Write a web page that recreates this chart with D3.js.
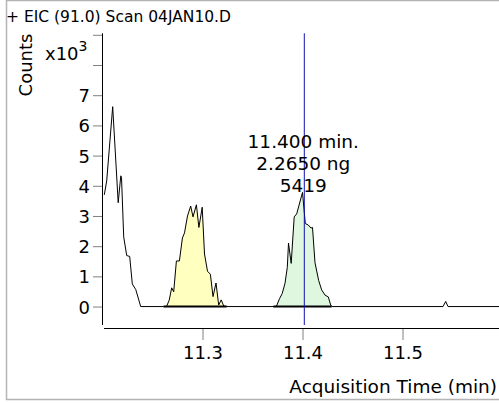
<!DOCTYPE html>
<html>
<head>
<meta charset="utf-8">
<script src="https://cdn.jsdelivr.net/npm/d3@7"></script>
<style>
  html, body { margin: 0; padding: 0; background: #fff; }
  svg { display: block; }
  text { font-family: "DejaVu Sans", Verdana, sans-serif; fill: #000; }
</style>
</head>
<body>
<svg id="chart" width="499" height="403"></svg>
<script>
// ---- data (time in min, counts in x10^3) ----
const title = "+ EIC (91.0) Scan 04JAN10.D";
const yTicks = [0, 1, 2, 3, 4, 5, 6, 7, 8, 9];
const yTickLabels = ["0", "1", "2", "3", "4", "5", "6", "7", "", ""];
const xTicks = [11.3, 11.4, 11.5];
const xTickLabels = ["11.3", "11.4", "11.5"];

const traceTimes = [
  11.2018, 11.2042, 11.2102, 11.2157, 11.2183, 11.2190, 11.2212, 11.2242, 11.2272, 11.2298, 11.2333, 11.2382,
  11.2610, 11.2640, 11.2667, 11.2692, 11.2712, 11.2739, 11.2769, 11.2799, 11.2820, 11.2850, 11.2882, 11.2905,
  11.2939, 11.2964, 11.2997, 11.3020, 11.3050, 11.3079, 11.3105, 11.3135, 11.3162, 11.3187, 11.3212, 11.3240,
  11.3738, 11.3770, 11.3797, 11.3825, 11.3848, 11.3860, 11.3887, 11.3917, 11.3942, 11.4000, 11.4028, 11.4058,
  11.4085, 11.4100, 11.4125, 11.4162, 11.4192, 11.4225, 11.4258, 11.4282, 11.4295,
  11.5405, 11.5432, 11.5455, 11.5965
];
const traceValues = [
  3.70, 4.16, 6.62, 3.44, 4.33, 4.28, 2.31, 1.69, 1.66, 0.75, 0.56, 0.0,
  0.0, 0.0, 0.21, 0.62, 0.49, 1.51, 1.51, 2.27, 2.44, 3.00, 3.33, 2.97,
  3.37, 2.62, 3.29, 1.74, 1.17, 1.07, 0.33, 0.78, 0.05, 0.22, 0.02, 0.0,
  0.0, 0.26, 0.43, 0.77, 1.30, 2.10, 1.43, 2.97, 3.07, 3.78, 2.75, 2.70,
  2.60, 2.62, 1.45, 0.86, 0.55, 0.38, 0.32, 0.05, 0.0,
  0.0, 0.17, 0.0, 0.0
];

// integrated peaks: [start, end] of baseline, fill colour
const peakStarts = [11.2610, 11.3708];
const peakEnds = [11.3242, 11.4292];
const fillStarts = [11.2640, 11.3738];
const fillEnds = [11.3240, 11.4295];
const peakFills = ["#ffffc0", "#dff7df"];

const cursorTime = 11.4018;
const annotation = ["11.400 min.", "2.2650 ng", "5419"];

// ---- drawing ----
const svg = d3.select("#chart");
const W = 499, H = 403;

const x = d3.scaleLinear().domain([11.1995, 11.5965]).range([102, 499]);
const y = d3.scaleLinear().domain([-0.71, 9.05]).range([328, 33.3]);

const pts = traceTimes.map((t, i) => [t, traceValues[i]]);

// outer frame
svg.append("path")
  .attr("d", `M6.5,0 L6.5,399.5 L499,399.5 M6.5,0.5 L499,0.5`)
  .attr("fill", "none").attr("stroke", "#b4b4b4").attr("stroke-width", 1.5);

// peak fills
peakStarts.forEach((s, k) => {
  const seg = pts.filter(p => p[0] >= fillStarts[k] - 1e-9 && p[0] <= fillEnds[k] + 1e-9);
  const area = d3.area().x(d => x(d[0])).y0(y(0)).y1(d => y(d[1]));
  svg.append("path").datum(seg).attr("d", area).attr("fill", peakFills[k]).attr("stroke", "none");
});

// trace
const line = d3.line().x(d => x(d[0])).y(d => y(d[1]));
const full = [];
pts.forEach((p, i) => { full.push(p); });
svg.append("path").datum(full).attr("d", line)
  .attr("fill", "none").attr("stroke", "#000").attr("stroke-width", 1).attr("stroke-linejoin", "miter");

// integration baselines
peakStarts.forEach((s, k) => {
  svg.append("line")
    .attr("x1", x(s)).attr("x2", x(peakEnds[k]))
    .attr("y1", y(0)).attr("y2", y(0))
    .attr("stroke", "#000").attr("stroke-width", 2);
});

// y axis
const yAxis = d3.axisLeft(y).tickValues(yTicks).tickSize(9).tickPadding(3)
  .tickFormat((d, i) => yTickLabels[i]);
const gy = svg.append("g").attr("transform", "translate(102,0)").call(yAxis);
gy.select(".domain").remove();
gy.selectAll(".tick line").attr("stroke", "#808080");
gy.selectAll(".tick text").style("font-size", "18px").attr("fill", "#000").attr("dy", "0.36em");
svg.append("line").attr("x1", 102.5).attr("x2", 102.5).attr("y1", y(9.05)).attr("y2", 325)
  .attr("stroke", "#000").attr("stroke-width", 1);

// x axis
const xAxis = d3.axisBottom(x).tickValues(xTicks).tickSize(11).tickPadding(6)
  .tickFormat((d, i) => xTickLabels[i]);
const gx = svg.append("g").attr("transform", "translate(0,329)").call(xAxis);
gx.select(".domain").remove();
gx.selectAll(".tick line").attr("stroke", "#808080");
gx.selectAll(".tick text").style("font-size", "18px").attr("fill", "#000");
svg.append("line").attr("x1", 104).attr("x2", 499).attr("y1", 328.5).attr("y2", 328.5)
  .attr("stroke", "#000").attr("stroke-width", 1);

// cursor
svg.append("line").attr("x1", x(cursorTime)).attr("x2", x(cursorTime))
  .attr("y1", y(9.05)).attr("y2", 325)
  .attr("stroke", "#1010b0").attr("stroke-width", 1);

// annotation
annotation.forEach((s, i) => {
  svg.append("text").attr("x", x(cursorTime) - 1).attr("y", 148 + i * 22)
    .attr("text-anchor", "middle").style("font-size", "18.5px").text(s);
});

// titles
svg.append("text").attr("x", 6).attr("y", 22).style("font-size", "15.5px").text(title);
svg.append("text").attr("transform", "translate(32,65) rotate(-90)")
  .attr("text-anchor", "middle").style("font-size", "18px").text("Counts");
const ex = svg.append("text").attr("x", 45).attr("y", 60).style("font-size", "18px");
ex.append("tspan").text("x10");
ex.append("tspan").attr("dy", -9).style("font-size", "14px").text("3");
svg.append("text").attr("x", 497).attr("y", 393).attr("text-anchor", "end")
  .style("font-size", "18.5px").text("Acquisition Time (min)");
</script>
</body>
</html>
